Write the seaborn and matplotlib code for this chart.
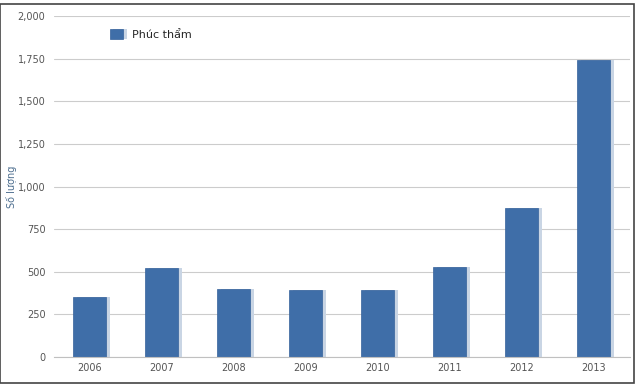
import numpy as np
import pandas as pd
import matplotlib
matplotlib.use("Agg")
import matplotlib.pyplot as plt
import matplotlib.patheffects as pe
from matplotlib.patches import Rectangle
import seaborn as sns

years = ["2006", "2007", "2008", "2009", "2010", "2011", "2012", "2013"]
counts = [350, 525, 400, 395, 395, 530, 875, 1745]
series_name = "Phúc thẩm"
y_ticks = [0, 250, 500, 750, 1000, 1250, 1500, 1750, 2000]

df = pd.DataFrame({"Năm": years, "Số lượng": counts, "Loại": series_name})

sns.set_style("white")
plt.rcParams["font.family"] = ["DejaVu Sans"]

fig = plt.figure(figsize=(6.4, 3.92), dpi=100)
ax = fig.add_axes([0.084, 0.089, 0.9, 0.87])

sns.barplot(data=df, x="Năm", y="Số lượng", hue="Loại", palette=["#3f6ea8"],
            width=0.46, ax=ax, saturation=1, edgecolor="#35619a", linewidth=0.5)

for p in ax.patches:
    p.set_path_effects([pe.SimplePatchShadow(offset=(2.5, 0), shadow_rgbFace="#c9d5e4", alpha=1),
                        pe.Normal()])

ax.set_ylim(0, 2000)
ax.set_yticks(y_ticks)
ax.set_yticklabels([f"{v:,}" for v in y_ticks], fontsize=7, color="#555555")
ax.yaxis.grid(True, color="#cccccc", linewidth=0.8)
ax.set_axisbelow(True)
ax.set_xlim(-0.5, len(years) - 0.5)
ax.tick_params(axis="x", labelsize=7, colors="#555555", length=0, pad=4)
ax.tick_params(axis="y", length=0, pad=6)
ax.set_xticks(np.arange(len(years)) + 0.5, minor=True)
ax.tick_params(axis="x", which="minor", length=3, color="#cccccc")

ax.set_xlabel("")
ax.set_ylabel("Số lượng", fontsize=7, color="#4d6e8f")
ax.yaxis.set_label_coords(-0.063, 0.5)

for side in ["top", "right", "left"]:
    ax.spines[side].set_visible(False)
ax.spines["bottom"].set_color("#c0c0c0")

leg = ax.legend(loc="upper left", bbox_to_anchor=(0.08, 0.99), frameon=False,
                fontsize=8, handlelength=1.2, handleheight=0.9)

fig.patches.append(Rectangle((0.0, 0.023), 0.99, 0.966, transform=fig.transFigure,
                             fill=False, edgecolor="#444444", linewidth=1.2))

fig.savefig("out.png", dpi=100)
